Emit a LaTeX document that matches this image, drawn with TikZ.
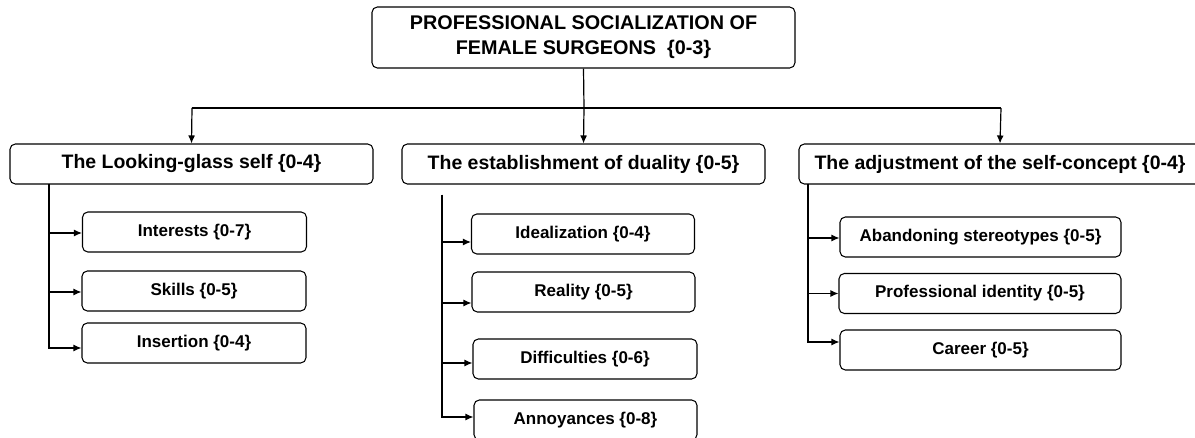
\documentclass[tikz,border=0pt]{standalone}
\usepackage{fontspec}
\setmainfont{Liberation Sans}
\usetikzlibrary{arrows.meta}
\begin{document}
\begin{tikzpicture}[x=0.75pt,y=-0.75pt,
  bx/.style 2 args={draw, line width=0.8pt, rounded corners=4pt, align=center, inner sep=0pt,
     minimum width=#1*0.75pt, minimum height=#2*0.75pt, font=\bfseries},
  topbox/.style={font=\fontsize{14.85pt}{18.75pt}\selectfont\bfseries},
  midbox/.style={font=\fontsize{14.6pt}{17pt}\selectfont\bfseries},
  subbox/.style={font=\fontsize{12.75pt}{15pt}\selectfont\bfseries},
  ln/.style={line width=0.9pt},
  arr/.style={line width=0.9pt, -{Latex[length=6pt,width=5.25pt]}}]
\useasboundingbox (0,0) rectangle (1195,438);
% top
\node[bx={423}{61}, topbox] (top) at (583.5,37.5) {PROFESSIONAL SOCIALIZATION OF\\FEMALE SURGEONS\ \ \{0-3\}};
% level 2
\node[bx={363}{40}, midbox] (lg) at (191.5,164) {The Looking-glass self \{0-4\}};
\node[bx={363}{40}, midbox] (ed) at (583.5,164) {The establishment of duality \{0-5\}};
\node[bx={402}{40}, midbox] (ad) at (1000,164) {The adjustment of the self-concept \{0-4\}};
% children left
\node[bx={224}{40}, subbox] (int) at (194.5,232) {Interests \{0-7\}};
\node[bx={224}{40}, subbox] (ski) at (194,291) {Skills \{0-5\}};
\node[bx={224}{40}, subbox] (ins) at (194,343) {Insertion \{0-4\}};
% children middle
\node[bx={223}{40}, subbox] (ide) at (583,234) {Idealization \{0-4\}};
\node[bx={223}{40}, subbox] (rea) at (583.5,292) {Reality \{0-5\}};
\node[bx={224}{40}, subbox] (dif) at (585,359) {Difficulties \{0-6\}};
\node[bx={223}{40}, subbox] (ann) at (585.5,420) {Annoyances \{0-8\}};
% children right
\node[bx={281}{40}, subbox] (aba) at (980.5,237) {Abandoning stereotypes \{0-5\}};
\node[bx={282}{40}, subbox] (pid) at (980,293.5) {Professional identity \{0-5\}};
\node[bx={281}{40}, subbox] (car) at (980.5,350) {Career \{0-5\}};
% top connectors
\coordinate (hc) at (584,108);
\coordinate (hl) at (192,108);
\coordinate (hr) at (1001,108);
\draw[ln] (top.south) -- (hc);
\draw[ln] (hl) -- (hr);
\draw[arr] (hl) -- (lg.north);
\draw[arr] (hc) -- (ed.north);
\draw[arr] (hr) -- (ad.north);
% left branch
\coordinate (lv) at (49,184);
\draw[arr] (lv) |- ([yshift=-0.75pt]int.west);
\draw[arr] (lv) |- ([yshift=-0.75pt]ski.west);
\draw[arr] (lv) |- ([yshift=-3.75pt]ins.west);
% middle branch
\coordinate (mv) at (442,195);
\draw[arr] (mv) |- ([yshift=-6pt]ide.west);
\draw[arr] (mv) |- ([yshift=-8.25pt]rea.west);
\draw[arr] (mv) |- ([yshift=-3pt]dif.west);
\draw[arr] (mv) |- ([yshift=2.25pt]ann.west);
% right branch
\coordinate (rv) at (808,184);
\draw[arr] (rv) |- ([yshift=-0.75pt]aba.west);
\draw[arr] (rv) |- (pid.west);
\draw[arr] (rv) |- ([yshift=6pt]car.west);
\end{tikzpicture}
\end{document}
